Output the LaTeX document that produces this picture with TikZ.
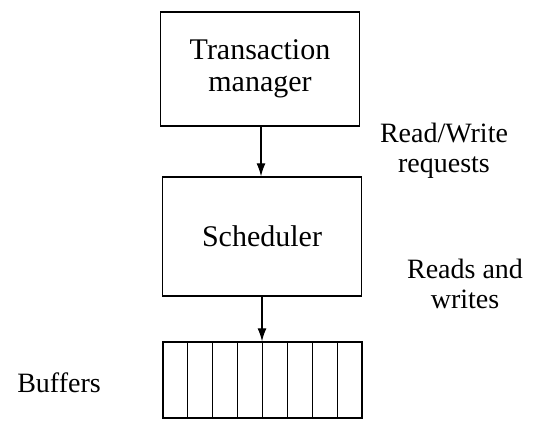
\documentclass[tikz,border=0pt]{standalone}
\usepackage{fontspec}
\setmainfont{Liberation Serif}
\usetikzlibrary{arrows.meta,calc}
\tikzset{
  unitbox/.style={draw, line width=1.4pt, minimum width=199pt, inner sep=0pt, align=center,
    font=\fontsize{30}{32}\selectfont},
  flowarrow/.style={line width=1.2pt, -{Latex[length=13pt,width=9pt]}},
  sidelabel/.style={align=center, font=\fontsize{28}{30}\selectfont}
}
\begin{document}
\begin{tikzpicture}[x=1pt,y=-1pt]
    \useasboundingbox (0,0) rectangle (533,423);

    % Define the three units
    \node[unitbox, minimum height=114pt] (tm) at (260,69) {Transaction\\manager};
    \node[unitbox, minimum height=119pt] (sched) at (262,236.5) {Scheduler};
    \node[unitbox, minimum height=76pt] (buf) at (262.5,380) {};

    % Split the buffers into cells
    \foreach \i in {1,...,7}
        \draw[line width=1.4pt] ($(buf.north west)!\i/8!(buf.north east)$) -- ($(buf.south west)!\i/8!(buf.south east)$);

    % Draw the requests between units
    \draw[flowarrow] (tm.south -| 261,0) -- (sched.north -| 261,0);
    \draw[flowarrow] (sched.south -| 262,0) -- (buf.north -| 262,0);

    % Side labels
    \node[sidelabel] (rwreq) at (444,151) {Read/Write\\requests};
    \node[sidelabel] (rw) at (465,284) {Reads and\\writes};
    \node[sidelabel] (buflabel) at (59,383) {Buffers};
\end{tikzpicture}
\end{document}
